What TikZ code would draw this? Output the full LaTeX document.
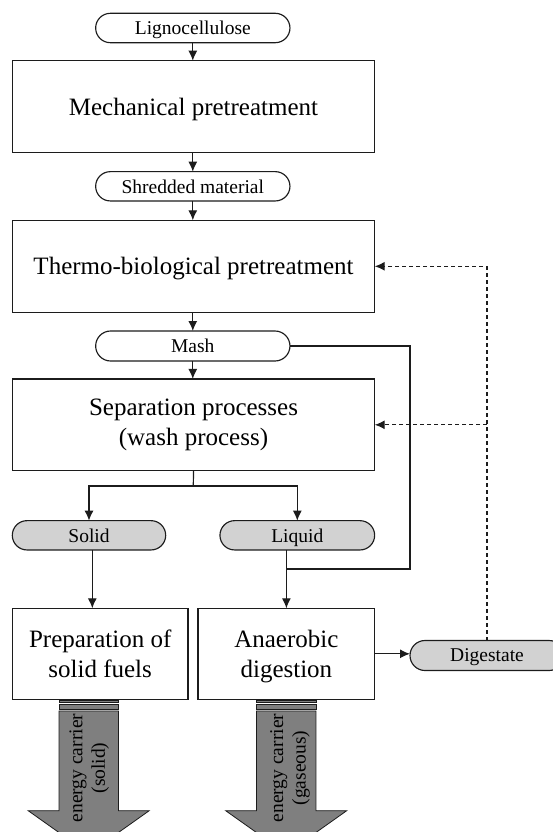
\documentclass[tikz,border=0pt]{standalone}
\usepackage{fontspec}
\setmainfont{Liberation Serif}
\usetikzlibrary{shapes.misc,arrows.meta}

\definecolor{ink}{HTML}{1C1C1C}
\definecolor{pillgray}{HTML}{D2D2D2}
\definecolor{carrier}{HTML}{7F7F7F}

\begin{document}
\begin{tikzpicture}[x=1pt,y=-1pt,
  every node/.style={inner sep=0pt,outer sep=0pt},
  procbox/.style={draw=ink,fill=white,rectangle,line width=1.25pt,align=center,
    font=\fontsize{25}{29.5}\selectfont},
  oneline/.style={text depth=0pt},
  pill/.style={draw=ink,fill=white,rounded rectangle,line width=1.15pt,
    text depth=0pt,font=\fontsize{19.5}{22}\selectfont},
  graypill/.style={pill,fill=pillgray},
  flow/.style={draw=ink,line width=1.2pt,-{Latex[length=10pt,width=9pt]}},
  plainline/.style={draw=ink,line width=1.2pt},
  feedback/.style={draw=ink,line width=1.3pt,dash pattern=on 4pt off 3pt,
    -{Latex[length=10pt,width=9pt]}},
  stripe/.style={draw=ink,fill=carrier,line width=0.8pt},
  carriertext/.style={rotate=90,align=center,font=\fontsize{19.5}{22.5}\selectfont}
]
\useasboundingbox (0,0) rectangle (553,832);
\begin{scope}
\clip (0,0) rectangle (553,832);

% main chain of process steps and intermediate products
\node[pill,minimum width=194.3pt,minimum height=29.4pt] (lig) at (192.8,28) {Lignocellulose};
\node[procbox,oneline,minimum width=362.4pt,minimum height=91.6pt] (mech) at (193.5,106.5) {Mechanical pretreatment};
\node[pill,minimum width=194.3pt,minimum height=29.3pt] (shred) at (192.8,186.3) {Shredded material};
\node[procbox,oneline,minimum width=362.4pt,minimum height=92pt] (thermo) at (193.5,266.3) {Thermo-biological pretreatment};
\node[pill,minimum width=194.3pt,minimum height=30pt] (mash) at (192.8,346) {Mash};
\node[procbox,minimum width=362.4pt,minimum height=91.7pt] (sep) at (193.5,424.8) {Separation processes\\(wash process)};

% solid / liquid fractions
\node[graypill,minimum width=153.4pt,minimum height=29.3pt] (solid) at (89,535.3) {Solid};
\node[graypill,minimum width=154.7pt,minimum height=29.3pt] (liquid) at (297.3,535.3) {Liquid};

\node[procbox,minimum width=175.7pt,minimum height=91pt] (prep) at (100.2,653.8) {Preparation of\\solid fuels};
\node[procbox,minimum width=176.7pt,minimum height=91pt] (anaer) at (286.4,653.8) {Anaerobic\\\smash{digestion}};
\node[graypill,minimum width=154pt,minimum height=30pt] (dig) at (487,655.5) {Digestate};

% connectors along the chain
\draw[flow] (lig.south) -- (lig.south |- mech.north);
\draw[flow] (mech.south) -- (mech.south -| shred.north) -- (shred.north);
\draw[flow] (shred.south) -- (shred.south |- thermo.north);
\draw[flow] (thermo.south) -- (thermo.south -| mash.north) -- (mash.north);
\draw[flow] (mash.south) -- (mash.south |- sep.north);

% split into the two fractions
\coordinate (br) at (193.3,486);
\draw[plainline] (sep.south) -- (br);
\draw[flow] (br) -| (solid.north);
\draw[flow] (br) -| (liquid.north);

\draw[flow] ([xshift=3.3pt]solid.south) -- ([xshift=3.3pt]solid.south |- prep.north);
\draw[flow] (liquid.south -| anaer.north) -- (anaer.north);

% mash bypass into the digester
\coordinate (byp) at (410,569);
\draw[plainline] (mash.east) -| (byp) -- (byp -| anaer.north);

% digestate and its recirculation
\draw[flow] (anaer.east) -- (anaer.east -| dig.west);
\coordinate (fbtop) at (dig.north |- thermo.east);
\coordinate (fbmid) at (dig.north |- sep.east);
\draw[feedback] (dig.north) -- (fbtop) -- (thermo.east);
\draw[feedback] (fbmid) -- (sep.east);

% striped block arrows for the energy carriers
\foreach \cx/\tx/\nm/\txt in {88.7/89.2/carS/{(solid)},286.2/290/carG/{(gaseous)}}{
  \draw[stripe] (\cx-29.7,699.9) rectangle (\cx+29.7,702.7);
  \draw[stripe] (\cx-29.7,704.3) rectangle (\cx+29.7,709.3);
  \draw[stripe] (\cx-29.7,710.9) -- (\cx-29.7,810.7) -- (\cx-60.5,810.7) -- (\cx,853.6)
     -- (\cx+60.5,810.7) -- (\cx+29.7,810.7) -- (\cx+29.7,710.9) -- cycle;
  \node[carriertext] (\nm) at (\tx,768) {energy carrier\\\txt};
}
\end{scope}
\end{tikzpicture}
\end{document}
